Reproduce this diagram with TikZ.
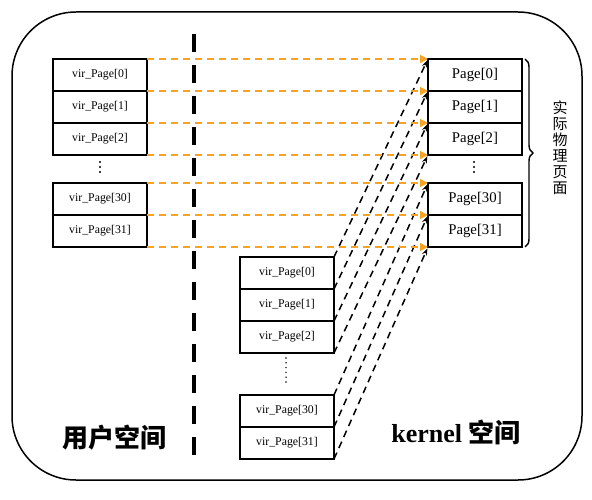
\documentclass[tikz,border=0pt]{standalone}
\usepackage{fontspec}
\setmainfont{Liberation Serif}
\newfontfamily\cjk{Noto Sans CJK SC}
\usetikzlibrary{arrows.meta,decorations.pathreplacing}
\definecolor{orng}{RGB}{244,163,36}
\tikzset{
  vbox/.style={draw,line width=1.4pt,minimum width=94pt,minimum height=32pt,inner sep=0pt,outer sep=0pt,font=\fontsize{11.8}{13}\selectfont},
  pbox/.style={vbox,font=\fontsize{14.8}{16}\selectfont},
  oarr/.style={draw=orng,line width=1.5pt,dash pattern=on 7pt off 5pt,-{Triangle[length=8pt,width=8pt,fill=orng]}},
  barr/.style={draw=black,line width=1.5pt,dash pattern=on 7pt off 5pt,-{Stealth[length=7pt,width=5pt]},shorten >=1.5pt},
  dotmark/.style={fill=black,draw=none},
  biglabel/.style={font=\fontsize{26}{30}\selectfont\bfseries}
}
\begin{document}
\begin{tikzpicture}[x=1pt,y=-1pt]
\useasboundingbox (0,0) rectangle (592,500);
\draw[line width=1.5pt,rounded corners=64pt] (12,12) rectangle (582,480);
% dashed separator
\draw[line width=4pt,dash pattern=on 18pt off 13pt] (194,34) -- (194,455);
% left boxes
\node[vbox] (l0) at (100,75) {vir\_Page[0]};
\node[vbox] (l1) at (100,107) {vir\_Page[1]};
\node[vbox] (l2) at (100,139) {vir\_Page[2]};
\node[vbox] (l30) at (100,199) {vir\_Page[30]};
\node[vbox] (l31) at (100,231) {vir\_Page[31]};
% right boxes
\node[pbox] (r0) at (475,75) {Page[0]};
\node[pbox] (r1) at (475,107) {Page[1]};
\node[pbox] (r2) at (475,139) {Page[2]};
\node[pbox] (r30) at (475,199) {Page[30]};
\node[pbox] (r31) at (475,231) {Page[31]};
% bottom boxes
\node[vbox] (b0) at (287,273) {vir\_Page[0]};
\node[vbox] (b1) at (287,305) {vir\_Page[1]};
\node[vbox] (b2) at (287,337) {vir\_Page[2]};
\node[vbox] (b30) at (287,411) {vir\_Page[30]};
\node[vbox] (b31) at (287,443) {vir\_Page[31]};
% dots
\foreach \y in {162,167,172} {\fill[dotmark] (100,\y) circle (1.1pt); \fill[dotmark] (474,\y) circle (1.1pt);}
\foreach \y in {358,362.8,367.6,372.4,377.2,382} {\fill[dotmark] (286,\y) circle (0.8pt);}
% black arrows
\draw[barr] (b0.north east) -- (r0.north west);
\draw[barr] (b0.south east) -- (r0.south west);
\draw[barr] (b1.south east) -- (r1.south west);
\draw[barr] (b2.south east) -- (r2.south west);
\draw[barr] (b30.north east) -- (r30.north west);
\draw[barr] (b30.south east) -- (r30.south west);
\draw[barr] (b31.south east) -- (r31.south west);
% orange arrows
\draw[oarr] (l0.north east) -- (r0.north west);
\draw[oarr] (l0.south east) -- (r0.south west);
\draw[oarr] (l1.south east) -- (r1.south west);
\draw[oarr] (l2.south east) -- (r2.south west);
\draw[oarr] (l30.north east) -- (r30.north west);
\draw[oarr] (l30.south east) -- (r30.south west);
\draw[oarr] (l31.south east) -- (r31.south west);
% brace
\draw[line width=1.4pt,decorate,decoration={brace,amplitude=8pt}] (525,59) -- (525,247);
\node[font=\cjk\fontsize{15}{16}\selectfont,align=center,inner sep=0pt] (phys) at (560,148) {实\\际\\物\\理\\页\\面};
% labels
\node[biglabel,font=\cjk\fontsize{26}{30}\selectfont\bfseries] (user) at (114,438) {用户空间};
\node[biglabel] (kern) at (456,432) {kernel {\cjk 空间}};
\end{tikzpicture}
\end{document}
